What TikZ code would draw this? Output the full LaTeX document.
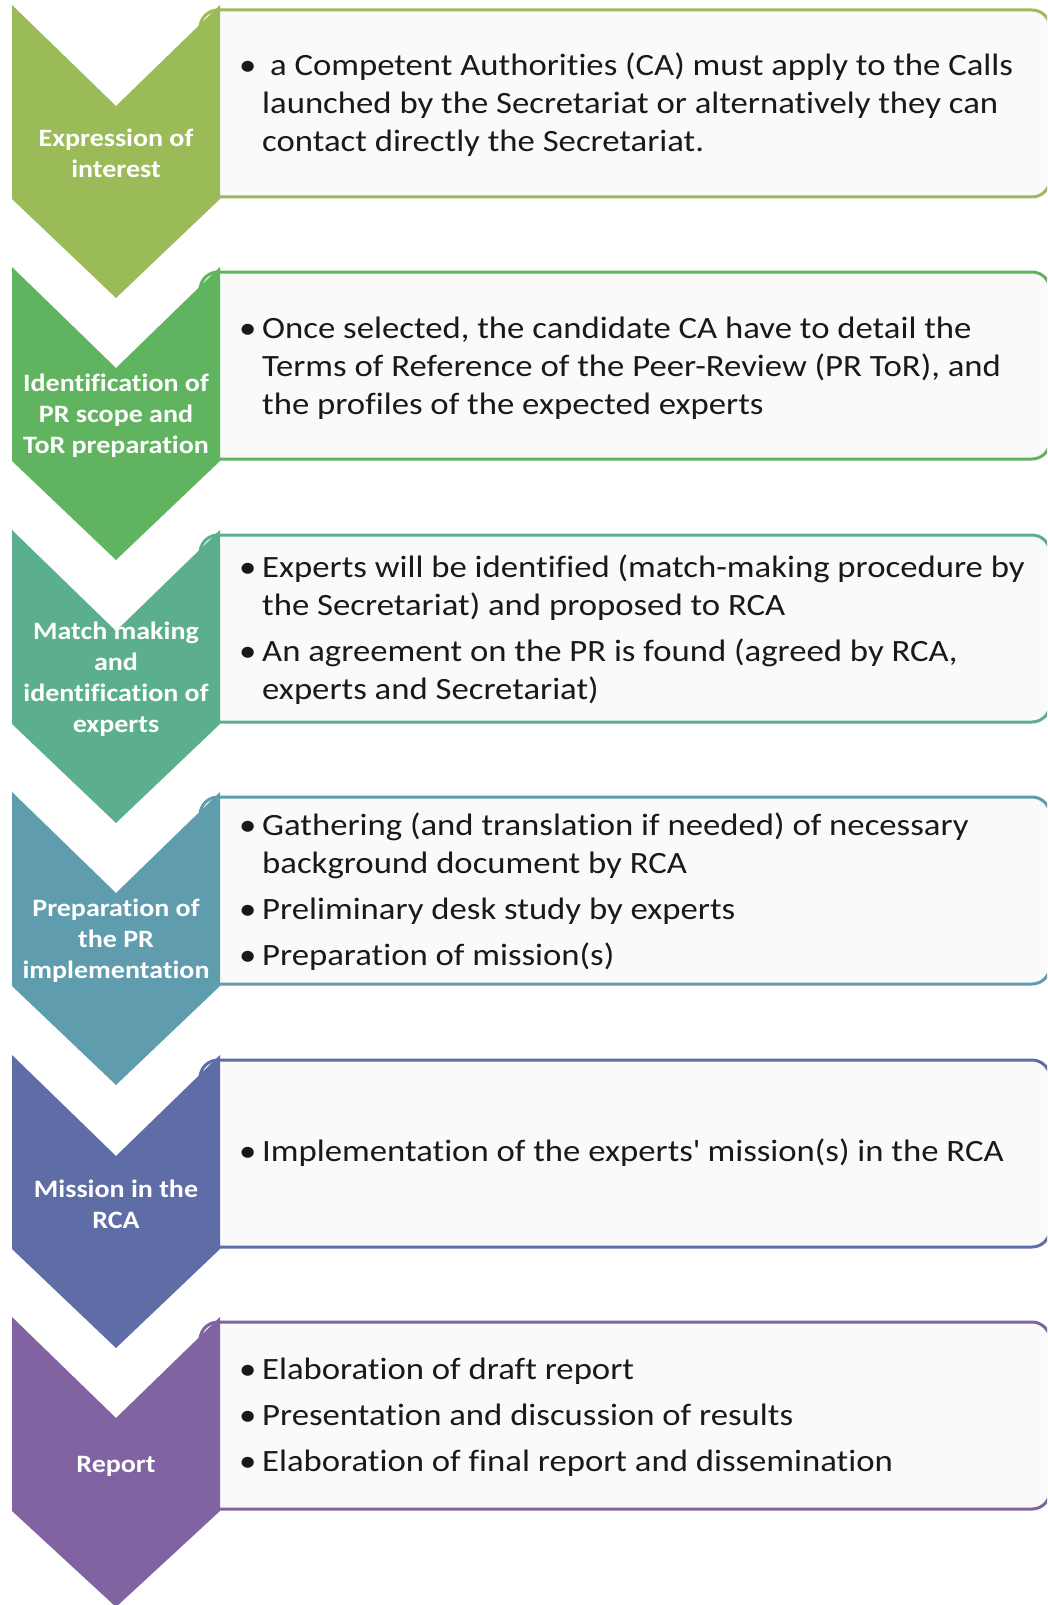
\documentclass[tikz,border=0pt]{standalone}
\usepackage{fontspec}
\setmainfont{Carlito}[FakeStretch=1.12, Ligatures={NoCommon}]
\definecolor{stepone}{HTML}{9BBB59}
\definecolor{steptwo}{HTML}{60B45F}
\definecolor{stepthree}{HTML}{5BAF8D}
\definecolor{stepfour}{HTML}{5F9DAE}
\definecolor{stepfive}{HTML}{5F6DA7}
\definecolor{stepsix}{HTML}{8063A0}
\newcommand{\bul}{\makebox[23pt][l]{\textbullet}}
\newcommand{\ind}{\hspace*{23pt}}
\tikzset{
	stepbox/.style	= {line width=3pt, rounded corners=18pt, fill=gray!4},
	steplabel/.style	= {text=white, font=\fontsize{25}{31}\selectfont\bfseries, align=center, inner sep=0pt},
	steptext/.style	= {anchor=west, text=black!90, font=\fontsize{31}{38}\selectfont, align=left, inner sep=0pt}
}
\begin{document}
\begin{tikzpicture}[x=1pt, y=-1pt]
				% Cadre
				\useasboundingbox	(0,0)		rectangle	(1047,1605)	;
				\clip 				(0,0)		rectangle	(1047,1605)	;
				% Etape 1
				\draw [stepbox, draw=stepone]		(200,10)	rectangle	(1050,197)	;
				\fill [stepone]	(12,5) -- (116,106) -- (220,5) -- (220,199) -- (116,298) -- (12,199) -- cycle;
				\node [steplabel] (lab1) at (116,153)	{Expression of\\interest};
				\node [steptext] (txt1) at (239,105)	{\bul{} a Competent Authorities (CA) must apply to the Calls\\
					\ind launched by the Secretariat or alternatively they can\\
					\ind contact directly the Secretariat.};
				% Etape 2
				\draw [stepbox, draw=steptwo]		(200,272)	rectangle	(1050,459)	;
				\fill [steptwo]	(12,267) -- (116,368) -- (220,267) -- (220,461) -- (116,560) -- (12,461) -- cycle;
				\node [steplabel] (lab2) at (116,416)	{Identification of\\PR scope and\\ToR preparation};
				\node [steptext] (txt2) at (239,368)	{\bul Once selected, the candidate CA have to detail the\\
					\ind Terms of Reference of the Peer-Review (PR ToR), and\\
					\ind the profiles of the expected experts};
				% Etape 3
				\draw [stepbox, draw=stepthree]	(200,535)	rectangle	(1050,722)	;
				\fill [stepthree]	(12,530) -- (116,631) -- (220,530) -- (220,724) -- (116,823) -- (12,724) -- cycle;
				\node [steplabel] (lab3) at (116,679)	{Match making\\and\\identification of\\experts};
				\node [steptext] (txt3) at (239,630)	{\bul Experts will be identified (match-making procedure by\\
					\ind the Secretariat) and proposed to RCA\\[8pt]
					\bul An agreement on the PR is found (agreed by RCA,\\
					\ind experts and Secretariat)};
				% Etape 4
				\draw [stepbox, draw=stepfour]		(200,797)	rectangle	(1050,984)	;
				\fill [stepfour]	(12,792) -- (116,893) -- (220,792) -- (220,986) -- (116,1085) -- (12,986) -- cycle;
				\node [steplabel] (lab4) at (116,941)	{Preparation of\\the PR\\implementation};
				\node [steptext] (txt4) at (239,892)	{\bul Gathering (and translation if needed) of necessary\\
					\ind background document by RCA\\[8pt]
					\bul Preliminary desk study by experts\\[8pt]
					\bul Preparation of mission(s)};
				% Etape 5
				\draw [stepbox, draw=stepfive]		(200,1060)	rectangle	(1050,1247)	;
				\fill [stepfive]	(12,1055) -- (116,1156) -- (220,1055) -- (220,1249) -- (116,1348) -- (12,1249) -- cycle;
				\node [steplabel] (lab5) at (116,1204)	{Mission in the\\RCA};
				\node [steptext] (txt5) at (239,1153)	{\bul Implementation of the experts\textquotesingle{} mission(s) in the RCA};
				% Etape 6
				\draw [stepbox, draw=stepsix]		(200,1322)	rectangle	(1050,1509)	;
				\fill [stepsix]	(12,1317) -- (116,1418) -- (220,1317) -- (220,1511) -- (116,1607) -- (12,1511) -- cycle;
				\node [steplabel] (lab6) at (116,1466)	{Report};
				\node [steptext] (txt6) at (239,1417)	{\bul Elaboration of draft report\\[8pt]
					\bul Presentation and discussion of results\\[8pt]
					\bul Elaboration of final report and dissemination};
\end{tikzpicture}
\end{document}
